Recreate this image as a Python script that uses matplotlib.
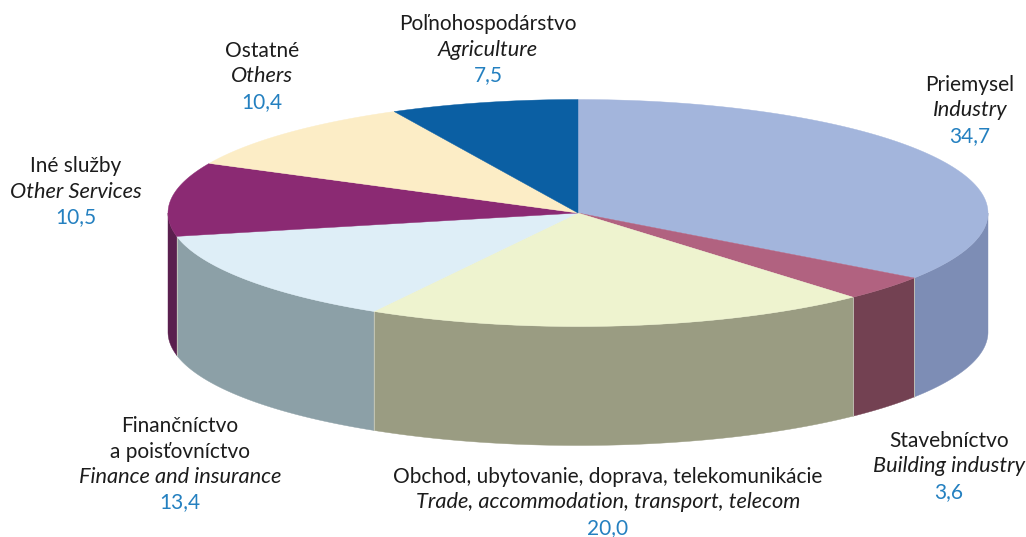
import numpy as np
import matplotlib
matplotlib.use("Agg")
import matplotlib.pyplot as plt
from matplotlib.patches import Polygon

names_sk = ["Priemysel", "Stavebníctvo", "Obchod, ubytovanie, doprava, telekomunikácie",
            "Finančníctvo\na poisťovníctvo", "Iné služby", "Ostatné", "Poľnohospodárstvo"]
names_en = ["Industry", "Building industry", "Trade, accommodation, transport, telecom",
            "Finance and insurance", "Other Services", "Others", "Agriculture"]
values = [34.7, 3.6, 20.0, 13.4, 10.5, 10.4, 7.5]
value_labels = ["34,7", "3,6", "20,0", "13,4", "10,5", "10,4", "7,5"]
top_colors = ["#A3B5DC", "#B16280", "#EEF3CF", "#DEEEF7", "#8B2A73", "#FCEDC6", "#0B5FA3"]
side_colors = ["#7D8DB5", "#734152", "#9A9C82", "#8CA0A7", "#5A1F4E", "#C9BD9E", "#084A80"]
# label centre x and top-line centre y (pixels)
label_pos = [(970, 85), (949, 441), (608, 477), (180, 426), (76, 166), (262, 51), (488, 24)]

CX, CY, RX, RY, DEPTH = 578, 213, 410, 113.5, 119
BLUE = "#2480C0"
INK = "#1c1c1c"
plt.rcParams["font.family"] = ["Lato", "DejaVu Sans"]

fig = plt.figure(figsize=(10.26, 5.37), dpi=100)
ax = fig.add_axes([0, 0, 1, 1])
ax.set_xlim(0, 1026)
ax.set_ylim(537, 0)
ax.axis("off")


def rim(a0, a1, dy=0.0):
    t = np.radians(np.linspace(a0, a1, 120))
    return np.column_stack([CX + RX * np.sin(t), CY - RY * np.cos(t) + dy])


# the published shares add up to 100.1, so the angles are taken as plain percentages
edges = np.concatenate([[0], np.cumsum(values)]) / 100 * 360
edges[-1] = 360
for i, (a0, a1) in enumerate(zip(edges[:-1], edges[1:])):
    lo, hi = max(a0, 90), min(a1, 270)
    if lo < hi:
        pts = np.vstack([rim(lo, hi), rim(lo, hi, DEPTH)[::-1]])
        ax.add_patch(Polygon(pts, closed=True, fc=side_colors[i], ec=side_colors[i], lw=0.3, zorder=2))
        if a1 < 270:
            xy = rim(a1, a1)[0]
            ax.plot([xy[0], xy[0]], [xy[1], xy[1] + DEPTH], color="#C8CBBC", lw=0.6, zorder=2.5)
for i, (a0, a1) in enumerate(zip(edges[:-1], edges[1:])):
    pts = np.vstack([[CX, CY], rim(a0, a1)])
    ax.add_patch(Polygon(pts, closed=True, fc=top_colors[i], ec=top_colors[i], lw=0.3, zorder=3))

FS = 15.0
FS_IT = 15.7
LH = 25.5
for (x, y), sk, en, v in zip(label_pos, names_sk, names_en, value_labels):
    for line in sk.split("\n"):
        ax.text(x, y, line, ha="center", va="center", fontsize=FS, color=INK)
        y += LH
    ax.text(x, y, en, ha="center", va="center", fontsize=FS_IT, color=INK, style="italic")
    y += LH
    ax.text(x, y, v, ha="center", va="center", fontsize=FS, color=BLUE)

fig.savefig("out.png", dpi=100)
